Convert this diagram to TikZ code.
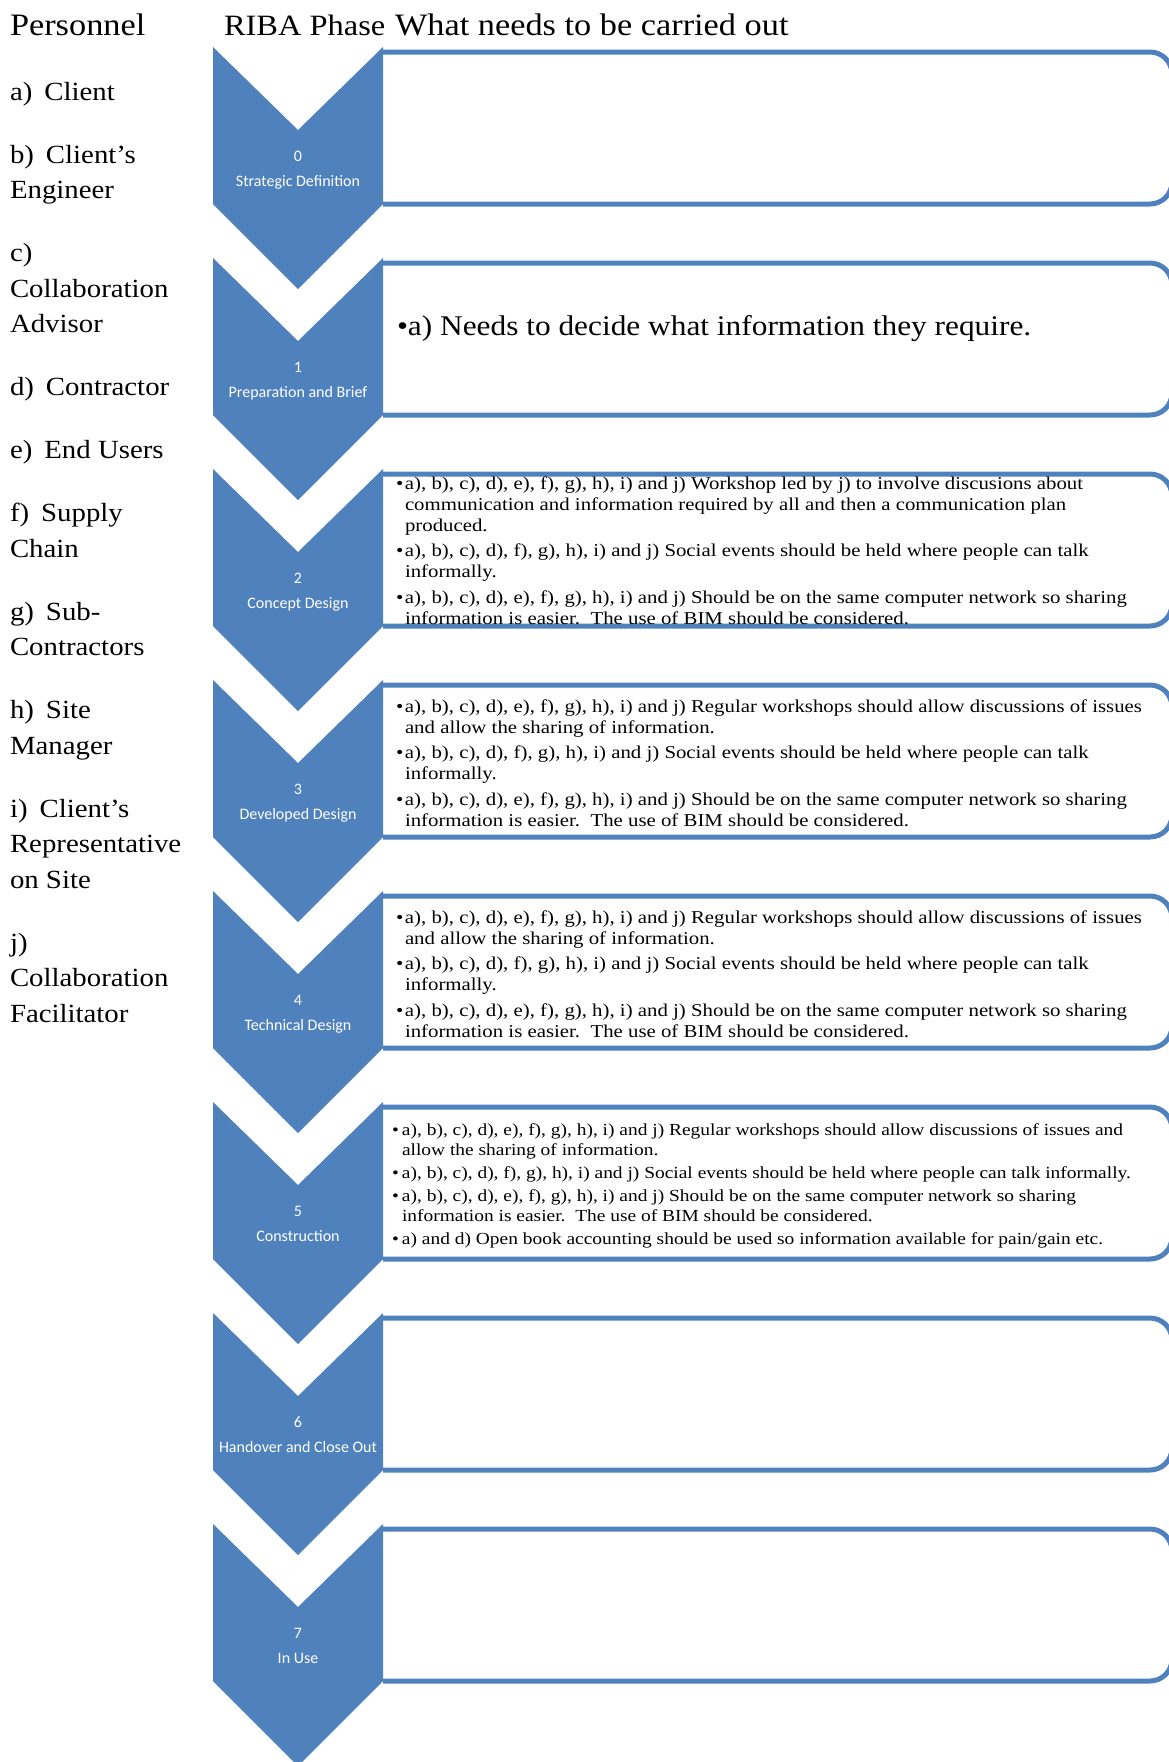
\documentclass[tikz,border=0pt]{standalone}
\usepackage{fontspec}
\setmainfont{Liberation Serif}[FakeStretch=1.1]
\newfontfamily\calibri{Carlito}
\newfontfamily\widerserif{Liberation Serif}[FakeStretch=1.15]
\definecolor{ribablue}{HTML}{4F81BD}
\tikzset{
    phase/.style={fill=ribablue},
    task/.style={draw=ribablue, line width=5pt, rounded corners=22pt},
    stage/.style={text=white, anchor=base, font=\calibri\fontsize{16}{25}\selectfont},
    head/.style={anchor=base west, font=\fontsize{31.2}{36}\selectfont},
    who/.style={anchor=base west, font=\fontsize{26.2}{35.5}\selectfont},
    todo/.style={anchor=base west, font=\widerserif\fontsize{18.1}{21}\selectfont},
    todosmall/.style={anchor=base west, font=\widerserif\fontsize{16.9}{20}\selectfont}
}

\begin{document}
\begin{tikzpicture}
  [
    x                       = 1pt,
    y                       = -1pt,
    every node/.style       = {inner sep=0pt, outer sep=0pt},
  ]
  \useasboundingbox (0,0) rectangle (1168,1762);

  % headings
  \node [head] (pers) at (10,35) {Personnel};
  \node [head, font=\fontsize{29.5}{36}\selectfont] (riba) at (224,35) {RIBA Phase};
  \node [head] (what) at (395,35) {What needs to be carried out};

  % personnel list
  \node [who] (list) at (10,100) {\begin{tabular}[t]{@{}l@{}}
    a)\hspace{12pt}Client\\[27.5pt]
    b)\hspace{12pt}Client’s\\
    Engineer\\[27.5pt]
    c)\\
    Collaboration\\
    Advisor\\[27.5pt]
    d)\hspace{12pt}Contractor\\[27.5pt]
    e)\hspace{12pt}End Users\\[27.5pt]
    f)\hspace{12pt}Supply\\
    Chain\\[27.5pt]
    g)\hspace{12pt}Sub-\\
    Contractors\\[27.5pt]
    h)\hspace{12pt}Site\\
    Manager\\[27.5pt]
    i)\hspace{12pt}Client’s\\
    Representative\\
    on Site\\[27.5pt]
    j)\\
    Collaboration\\
    Facilitator
  \end{tabular}};

  % boxes
  \draw [task] (383,52) -- (1172,52) -- (1172,204) -- (383,204);
  \draw [task] (383,263) -- (1172,263) -- (1172,415) -- (383,415);
  \draw [task] (383,474) -- (1172,474) -- (1172,626) -- (383,626);
  \draw [task] (383,685) -- (1172,685) -- (1172,837) -- (383,837);
  \draw [task] (383,896) -- (1172,896) -- (1172,1048) -- (383,1048);
  \draw [task] (383,1107) -- (1172,1107) -- (1172,1259) -- (383,1259);
  \draw [task] (383,1318) -- (1172,1318) -- (1172,1470) -- (383,1470);
  \draw [task] (383,1529) -- (1172,1529) -- (1172,1681) -- (383,1681);

  % chevrons
  \fill [phase] (213,47) -- (298,130) -- (383,47) -- (383,204) -- (298,289) -- (213,204) -- cycle;
  \fill [phase] (213,258) -- (298,341) -- (383,258) -- (383,415) -- (298,500) -- (213,415) -- cycle;
  \fill [phase] (213,469) -- (298,552) -- (383,469) -- (383,626) -- (298,711) -- (213,626) -- cycle;
  \fill [phase] (213,680) -- (298,763) -- (383,680) -- (383,837) -- (298,922) -- (213,837) -- cycle;
  \fill [phase] (213,891) -- (298,974) -- (383,891) -- (383,1048) -- (298,1133) -- (213,1048) -- cycle;
  \fill [phase] (213,1102) -- (298,1185) -- (383,1102) -- (383,1259) -- (298,1344) -- (213,1259) -- cycle;
  \fill [phase] (213,1313) -- (298,1396) -- (383,1313) -- (383,1470) -- (298,1555) -- (213,1470) -- cycle;
  \fill [phase] (213,1524) -- (298,1607) -- (383,1524) -- (383,1681) -- (298,1766) -- (213,1681) -- cycle;

  % stage labels
  \node [stage] (s0) at (298,161) {\begin{tabular}[t]{@{}c@{}}0\\Strategic Definition\end{tabular}};
  \node [stage] (s1) at (298,372) {\begin{tabular}[t]{@{}c@{}}1\\Preparation and Brief\end{tabular}};
  \node [stage] (s2) at (298,583) {\begin{tabular}[t]{@{}c@{}}2\\Concept Design\end{tabular}};
  \node [stage] (s3) at (298,794) {\begin{tabular}[t]{@{}c@{}}3\\Developed Design\end{tabular}};
  \node [stage] (s4) at (298,1005) {\begin{tabular}[t]{@{}c@{}}4\\Technical Design\end{tabular}};
  \node [stage] (s5) at (298,1216) {\begin{tabular}[t]{@{}c@{}}5\\Construction\end{tabular}};
  \node [stage] (s6) at (298,1427) {\begin{tabular}[t]{@{}c@{}}6\\Handover and Close Out\end{tabular}};
  \node [stage] (s7) at (298,1638) {\begin{tabular}[t]{@{}c@{}}7\\In Use\end{tabular}};

  % what needs doing
  \node [who, font=\fontsize{28.5}{35.5}\selectfont] (w1) at (397,335) {•a) Needs to decide what information they require.};

  \node [todo] (w2) at (396,489) {\begin{tabular}[t]{@{}p{9pt}@{}l@{}}
    •&a), b), c), d), e), f), g), h), i) and j) Workshop led by j) to involve discusions about\\
     &communication and information required by all and then a communication plan\\
     &produced.\\[4.5pt]
    •&a), b), c), d), f), g), h), i) and j) Social events should be held where people can talk\\
     &informally.\\[4.5pt]
    •&a), b), c), d), e), f), g), h), i) and j) Should be on the same computer network so sharing\\
     &information is easier.\ \ The use of BIM should be considered.
  \end{tabular}};

  \node [todo] (w3) at (396,712) {\begin{tabular}[t]{@{}p{9pt}@{}l@{}}
    •&a), b), c), d), e), f), g), h), i) and j) Regular workshops should allow discussions of issues\\
     &and allow the sharing of information.\\[4.5pt]
    •&a), b), c), d), f), g), h), i) and j) Social events should be held where people can talk\\
     &informally.\\[4.5pt]
    •&a), b), c), d), e), f), g), h), i) and j) Should be on the same computer network so sharing\\
     &information is easier.\ \ The use of BIM should be considered.
  \end{tabular}};

  \node [todo] (w4) at (396,923) {\begin{tabular}[t]{@{}p{9pt}@{}l@{}}
    •&a), b), c), d), e), f), g), h), i) and j) Regular workshops should allow discussions of issues\\
     &and allow the sharing of information.\\[4.5pt]
    •&a), b), c), d), f), g), h), i) and j) Social events should be held where people can talk\\
     &informally.\\[4.5pt]
    •&a), b), c), d), e), f), g), h), i) and j) Should be on the same computer network so sharing\\
     &information is easier.\ \ The use of BIM should be considered.
  \end{tabular}};

  \node [todosmall] (w5) at (392,1135.5) {\begin{tabular}[t]{@{}p{10pt}@{}l@{}}
    •&a), b), c), d), e), f), g), h), i) and j) Regular workshops should allow discussions of issues and\\
     &allow the sharing of information.\\[3pt]
    •&a), b), c), d), f), g), h), i) and j) Social events should be held where people can talk informally.\\[3pt]
    •&a), b), c), d), e), f), g), h), i) and j) Should be on the same computer network so sharing\\
     &information is easier.\ \ The use of BIM should be considered.\\[3pt]
    •&a) and d) Open book accounting should be used so information available for pain/gain etc.
  \end{tabular}};
\end{tikzpicture}
\end{document}
